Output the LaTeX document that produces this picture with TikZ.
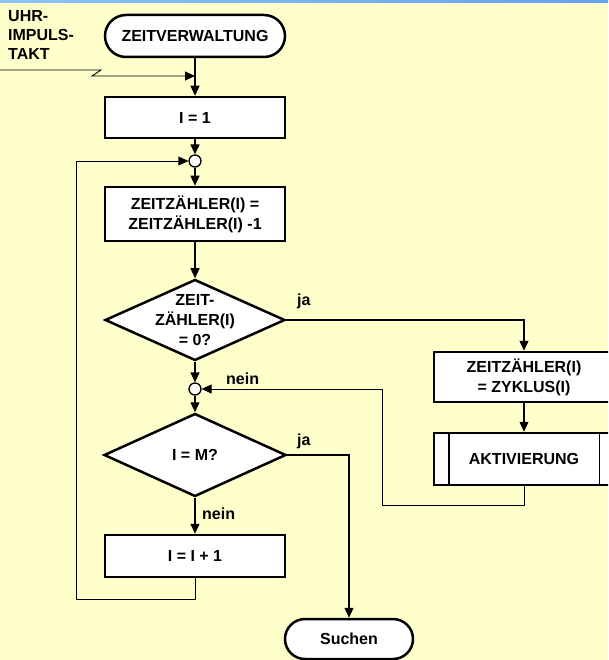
\documentclass[tikz,border=0pt]{standalone}
\usepackage{fontspec}
\setmainfont{Liberation Sans}
\usetikzlibrary{shapes.geometric,arrows.meta}
\definecolor{paper}{HTML}{FFFFCC}
\definecolor{barL}{HTML}{8CC4FF}
\definecolor{barR}{HTML}{64A4F4}
\begin{document}
\begin{tikzpicture}[x=1pt,y=-1pt,
  every node/.style={font=\bfseries\fontsize{16}{20}\selectfont},
  box/.style={draw, line width=2.5pt, fill=white, minimum width=180pt, inner sep=0pt, align=center},
  term/.style={box, rounded corners=#1},
  dia/.style={draw, diamond, line width=2.5pt, fill=white, inner sep=0pt},
  junc/.style={draw, circle, line width=1.3pt, fill=white, minimum size=12pt, inner sep=0pt},
  tip/.style={-{Triangle[length=10pt,width=9pt]}},
  flow/.style={line width=1.3pt, tip},
  back/.style={line width=0.9pt, tip},
  lbl/.style={anchor=west, inner sep=0pt}]
% page and top bar
\useasboundingbox (0,0) rectangle (608,660);
\clip (0,0) rectangle (608,660);
\fill[paper] (0,0) rectangle (608,660);
\shade[left color=barL, right color=barR] (0,0) rectangle (608,3);

% main column
\node[term=21pt, minimum height=42pt] (zv) at (195,36) {ZEITVERWALTUNG};
\node[box, minimum height=41pt] (i1) at (195,117.5) {I = 1};
\node[junc] (j1) at (195,161) {};
\node[box, minimum height=54pt] (zz) at (195,214) {ZEITZÄHLER(I) =\\ZEITZÄHLER(I) -1};
\node[dia, minimum width=180pt, minimum height=81pt] (d1) at (195,320) {};
\node[align=center, inner sep=0pt] (d1t) at (195,320) {ZEIT-\\ZÄHLER(I)\\= 0?};
\node[junc] (j2) at (195,389) {};
\node[dia, minimum width=182pt, minimum height=83pt] (d2) at (195,455) {};
\node[inner sep=0pt] (d2t) at (195,455) {I = M?};
\node[box, minimum height=42pt] (inc) at (195,556) {I = I + 1};

% right branch
\node[box, minimum height=50pt] (zy) at (524,377) {ZEITZÄHLER(I)\\= ZYKLUS(I)};
\node[box, minimum height=52pt] (akt) at (524,459) {AKTIVIERUNG};
\draw[line width=1.5pt] ([xshift=16pt]akt.north west) -- ([xshift=16pt]akt.south west);
\draw[line width=1.5pt] ([xshift=-16pt]akt.north east) -- ([xshift=-16pt]akt.south east);

% exit
\node[term=20pt, minimum width=128pt, minimum height=40pt] (su) at (349,639) {Suchen};

% clock input
\node[align=left, anchor=west, inner sep=0pt, font=\bfseries\fontsize{16}{19}\selectfont] (clk) at (8,35) {UHR-\\IMPULS-\\TAKT};
\coordinate (cin) at (0,70);
\coordinate (tin) at (195,76);

% connectors
\draw[flow] (zv) -- (i1);
\draw[back] (cin) -- (101,70) -- (92,76) -- (tin);
\draw[flow] (i1) -- (j1);
\draw[flow] (j1) -- (zz);
\draw[flow] (zz) -- (d1);
\draw[flow] (d1.east) -| (zy.north);
\draw[flow] (zy) -- (akt);
\coordinate (r1) at (382,505);
\draw[back] (akt.south) |- (r1) |- (j2.east);
\draw[flow] (d1) -- (j2);
\draw[flow] (j2) -- (d2);
\draw[flow] (d2.east) -| (su.north);
\draw[flow] (d2) -- (inc);
\coordinate (l1) at (76,599);
\draw[back] (inc.south) |- (l1) |- (j1.west);

% branch labels
\node[lbl] (ja1) at (297,301) {ja};
\node[lbl] (nein1) at (226,379) {nein};
\node[lbl] (ja2) at (297,441) {ja};
\node[lbl] (nein2) at (202,514) {nein};
\end{tikzpicture}
\end{document}
